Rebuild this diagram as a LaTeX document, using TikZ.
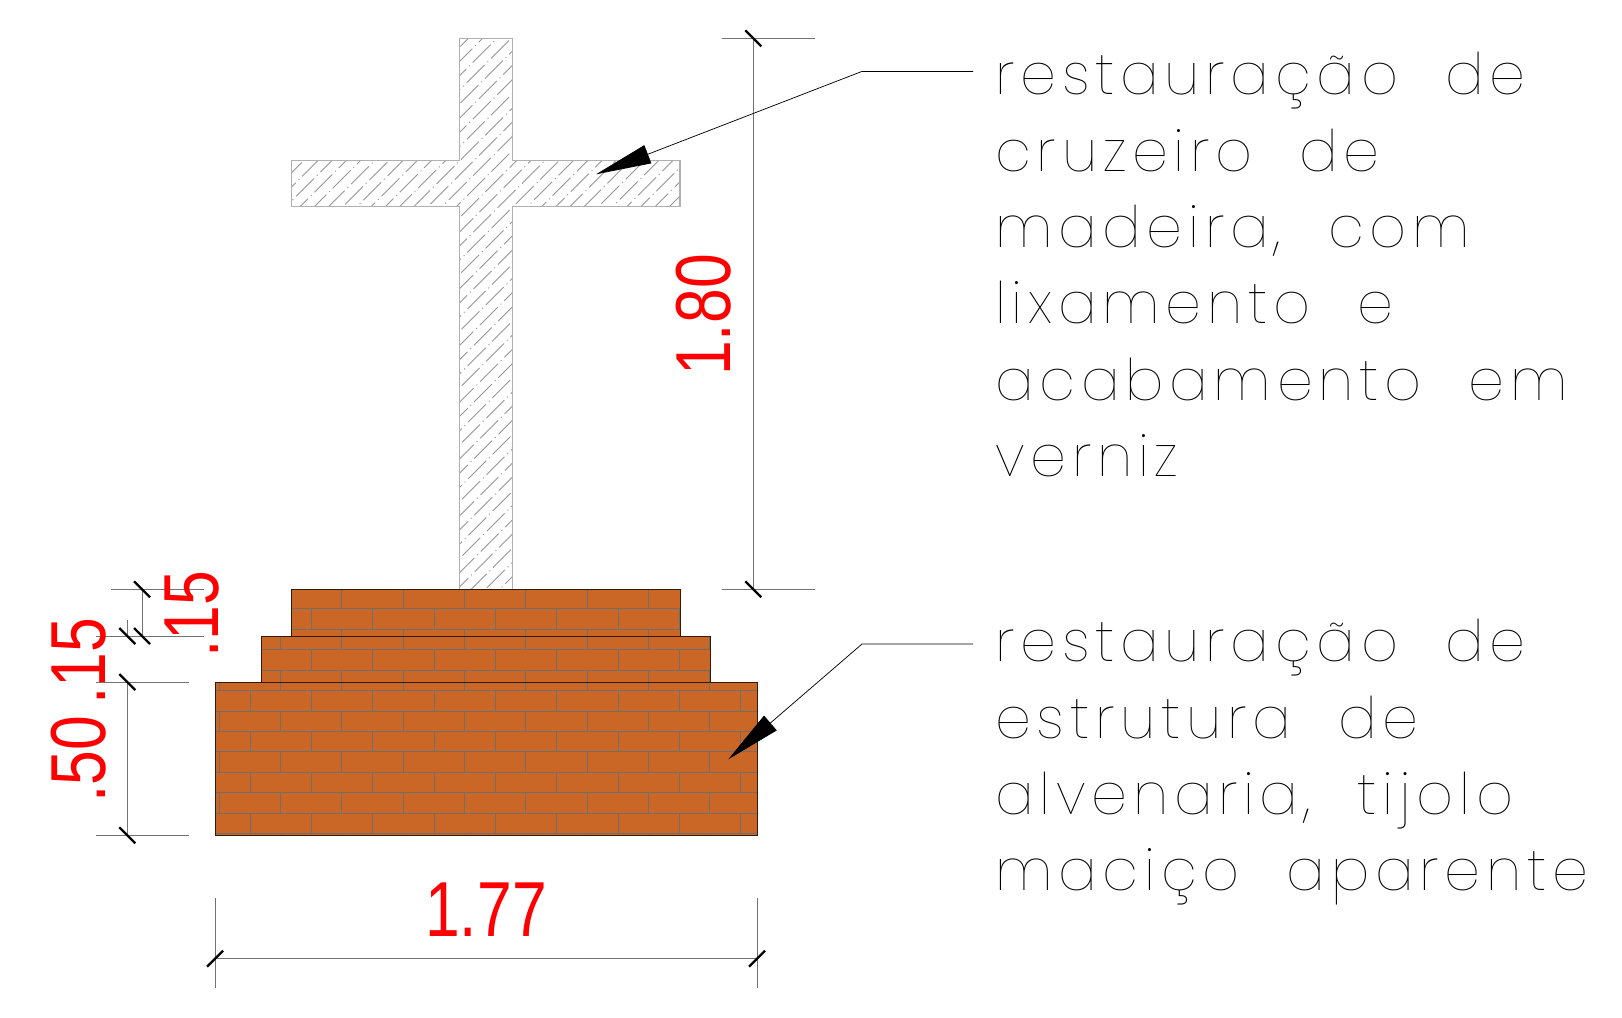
\documentclass[tikz,border=0pt]{standalone}
\usepackage{fontspec}
\usetikzlibrary{arrows.meta}
\usetikzlibrary{positioning}
\newfontfamily\dimfont[FakeStretch=0.80]{Liberation Sans}
\newfontfamily\notefont[LetterSpace=10,WordSpace=2.1]{Poppins Thin}
\definecolor{brick}{RGB}{203,103,38}
\definecolor{mortar}{RGB}{115,110,105}
\definecolor{hatch}{RGB}{150,150,150}
\tikzset{
  dimline/.style={line width=.7pt, black!55},
  tick/.style={line width=1.7pt, black},
  edge/.style={black!75!brick, line width=.75pt},
  dimtext/.style={red, inner sep=0pt, font=\dimfont\fontsize{58.5pt}{58.5pt}\selectfont},
  note/.style={inner sep=0pt, anchor=north west, align=left, text=black,
    font=\notefont\fontsize{43pt}{57.3pt}\selectfont},
  leader/.style={line width=.55pt, -{Triangle[length=41.7pt,width=14.5pt]}},
}
\begin{document}
\begin{tikzpicture}[x=.75pt, y=-.75pt]
    \useasboundingbox (0,0) rectangle (1622,1018);

    % cross
    \begin{scope}
        \clip (459.5,38.3) -- (512.3,38.3) -- (512.3,160.7) -- (680,160.7) -- (680,206.7) -- (512.3,206.7)
            -- (512.3,589.3) -- (459.5,589.3) -- (459.5,206.7) -- (291.7,206.7) -- (291.7,160.7) -- (459.5,160.7) -- cycle;
        \foreach \i in {0,...,48} {
            \pgfmathsetmacro{\off}{mod(2580+22.4-451-4.35*(\i-15),25.8)}
            \draw[hatch, line width=.65pt, dash pattern=on 19pt off 3pt on .8pt off 3pt, dash phase=\off pt]
                (-150+\i*14.2,600) -- ++(600,-600);
        }
    \end{scope}
    \draw[hatch!75!white, line width=1.1pt] (459.5,38.3) -- (512.3,38.3) -- (512.3,160.7) -- (680,160.7) -- (680,206.7) -- (512.3,206.7)
        -- (512.3,589.3) -- (459.5,589.3) -- (459.5,206.7) -- (291.7,206.7) -- (291.7,160.7) -- (459.5,160.7) -- cycle;

    % brick base
    \fill[brick] (291.7,589.3) -- (680.3,589.3) -- (680.3,636) -- (710.7,636) -- (710.7,682) -- (757,682) -- (757,835.3)
        -- (215,835.3) -- (215,682) -- (261.3,682) -- (261.3,636) -- (291.7,636) -- cycle;
    \begin{scope}
        \clip (291.7,589.3) -- (680.3,589.3) -- (680.3,636) -- (710.7,636) -- (710.7,682) -- (757,682) -- (757,835.3)
            -- (215,835.3) -- (215,682) -- (261.3,682) -- (261.3,636) -- (291.7,636) -- cycle;
        \foreach \r in {0,...,12} {
            \pgfmathsetmacro{\ytop}{588.5+\r*20.43}
            \pgfmathsetmacro{\xa}{mod(\r,2)==0 ? 219.3 : 250}
            \draw[mortar, line width=.7pt] (200,\ytop) -- (770,\ytop);
            \foreach \c in {0,...,9} {
                \draw[mortar, line width=.7pt] (\xa+\c*61.33,\ytop) -- ++(0,20.43);
            }
        }
    \end{scope}
    \draw[edge] (291.7,636) -- (291.7,589.3) -- (680.3,589.3) -- (680.3,636);
    \draw[edge] (261.3,682) -- (261.3,636) -- (710.7,636) -- (710.7,682);
    \draw[edge] (215,682) -- (757,682) -- (757,835.3) -- (215,835.3) -- cycle;

    % dimensions
    \draw[dimline] (722,38.3) -- (815,38.3);
    \draw[dimline] (722,589.3) -- (815,589.3);
    \draw[dimline] (753.3,38.3) -- (753.3,589.3);
    \draw[tick] (745.3,30.3) -- ++(16,16);
    \draw[tick] (745.3,581.3) -- ++(16,16);
    \node[dimtext, rotate=90] (h180) at (704,315) {1.80};

    \draw[dimline] (111,589.3) -- (203.7,589.3);
    \draw[dimline] (111,636) -- (203.7,636);
    \draw[dimline] (96,636) -- (188.7,636);
    \draw[dimline] (96,682) -- (188.7,682);
    \draw[dimline] (96,835.3) -- (188.7,835.3);
    \draw[dimline] (142,589.3) -- (142,636);
    \draw[dimline] (127.3,620) -- (127.3,636);
    \draw[dimline] (127.3,682) -- (127.3,835.3);
    \foreach \x/\y in {142/589.3, 142/636, 127.3/636, 127.3/682, 127.3/835.3} {
        \draw[tick] (\x-8,\y-8) -- ++(16,16);
    }
    \node[dimtext, rotate=90] (h15a) at (192,614) {.15};
    \node[dimtext, rotate=90] (h15b) at (79,661) {.15};
    \node[dimtext, rotate=90] (h50) at (79,759) {.50};

    \draw[dimline] (215,898) -- (215,988);
    \draw[dimline] (757,898) -- (757,988);
    \draw[dimline] (215,958.7) -- (757,958.7);
    \draw[tick] (207,966.7) -- ++(16,-16);
    \draw[tick] (749,966.7) -- ++(16,-16);
    \node[dimtext] (w177) at (486,910) {1.77};

    % notes
    \node[note] (notecross) at (995,52) {restauração de\\cruzeiro de\\madeira, com\\lixamento e\\acabamento em\\verniz};
    \node[note] (notebrick) at (995,619) {restauração de\\estrutura de\\alvenaria, tijolo\\maciço aparente};

    \coordinate (crossend) at (973,71.4);
    \coordinate (crossknee) at (862,71.4);
    \coordinate (crosstip) at (596,174.3);
    \coordinate (brickend) at (973,644);
    \coordinate (brickknee) at (862,644);
    \coordinate (bricktip) at (728.3,759.3);
    \draw[leader] (crossend) -- (crossknee) -- (crosstip);
    \draw[leader] (brickend) -- (brickknee) -- (bricktip);
\end{tikzpicture}
\end{document}
